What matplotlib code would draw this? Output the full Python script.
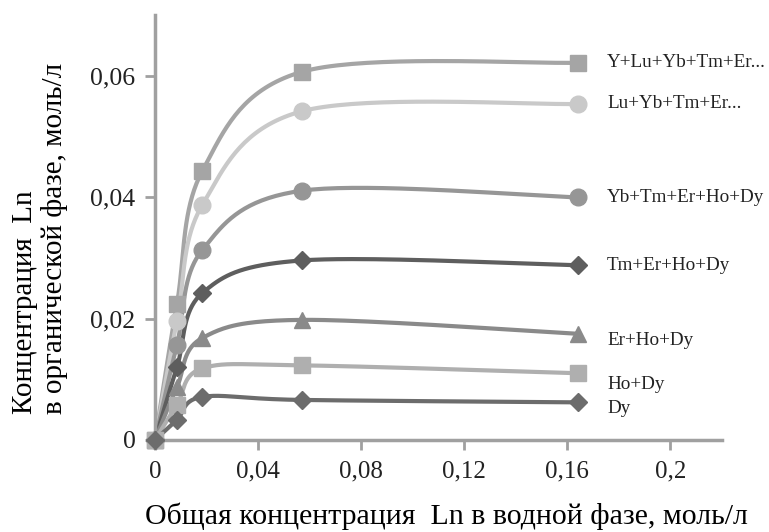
import matplotlib
matplotlib.use('Agg')
import matplotlib.pyplot as plt
import numpy as np

plt.rcParams['font.family'] = ['Liberation Serif', 'DejaVu Serif']

x_vals = [0, 0.0085, 0.0183, 0.057, 0.1643]
labels = ['Y+Lu+Yb+Tm+Er...', 'Lu+Yb+Tm+Er...', 'Yb+Tm+Er+Ho+Dy',
          'Tm+Er+Ho+Dy', 'Er+Ho+Dy', 'Ho+Dy', 'Dy']
s_y = [0, 0.0224, 0.0443, 0.0607, 0.0622]
s_lu = [0, 0.0196, 0.0387, 0.0542, 0.0554]
s_yb = [0, 0.0157, 0.0313, 0.0411, 0.0400]
s_tm = [0, 0.0120, 0.0242, 0.0296, 0.0288]
s_er = [0, 0.0087, 0.0168, 0.0198, 0.0175]
s_ho = [0, 0.0058, 0.0118, 0.0123, 0.0110]
s_dy = [0, 0.0033, 0.0071, 0.0066, 0.0062]

series = [s_y, s_lu, s_yb, s_tm, s_er, s_ho, s_dy]
colors = ['#a5a5a5', '#c9c9c9', '#969696', '#5e5e5e', '#8a8a8a', '#afafaf', '#6c6c6c']
markers = ['s', 'o', 'o', 'D', '^', 's', 'D']
msizes = [11, 12, 12, 9, 11, 11, 9]
label_dy = [0, 0, 0, 0, -0.0011, -0.0018, -0.0010]


def smooth(xs, ys, n=40, t=0.5):
    # cardinal spline through the points (like Excel smoothed lines)
    xs = np.asarray(xs, float)
    ys = np.asarray(ys, float)
    px = np.concatenate([[xs[0]], xs, [xs[-1]]])
    py = np.concatenate([[ys[0]], ys, [ys[-1]]])
    ox, oy = [], []
    for i in range(1, len(px) - 2):
        p0, p1, p2, p3 = [np.array([px[j], py[j]]) for j in (i - 1, i, i + 1, i + 2)]
        c1 = p1 + (p2 - p0) * t / 3
        c2 = p2 - (p3 - p1) * t / 3
        u = np.linspace(0, 1, n)[:, None]
        b = (1 - u) ** 3 * p1 + 3 * (1 - u) ** 2 * u * c1 + 3 * (1 - u) * u ** 2 * c2 + u ** 3 * p2
        ox.extend(b[:, 0])
        oy.extend(b[:, 1])
    return ox, oy


fig = plt.figure(figsize=(7.69, 5.32), dpi=100)
ax = fig.add_axes([0.2016, 0.173, 0.737, 0.798])

for ys, c, m, ms in zip(series, colors, markers, msizes):
    sx, sy = smooth(x_vals, ys)
    ax.plot(sx, sy, color=c, lw=3, zorder=2)
    ax.plot(x_vals, ys, ls='none', marker=m, ms=ms, color=c, mec=c, zorder=3, clip_on=False)

for ys, lab, d in zip(series, labels, label_dy):
    ax.text(0.1755, ys[-1] + d, lab, fontsize=13.8, va='center', ha='left', color='#222222')

ax.set_xlim(0, 0.22)
ax.set_ylim(0, 0.07)
ax.set_xticks([0, 0.04, 0.08, 0.12, 0.16, 0.2])
ax.set_xticklabels(['0', '0,04', '0,08', '0,12', '0,16', '0,2'])
ax.set_yticks([0, 0.02, 0.04, 0.06])
ax.set_yticklabels(['0', '0,02', '0,04', '0,06'])
ax.tick_params(labelsize=18, colors='#a0a0a0', width=2, length=7, labelcolor='#222222')
ax.tick_params(axis='x', pad=8)
ax.tick_params(axis='y', pad=7, labelsize=18.5)
for s in ['top', 'right']:
    ax.spines[s].set_visible(False)
for s in ['left', 'bottom']:
    ax.spines[s].set_color('#a0a0a0')
    ax.spines[s].set_linewidth(2.5)

ax.set_xlabel('Общая концентрация  Ln в водной фазе, моль/л', fontsize=21.5, labelpad=14, x=0.515)
fig.text(0.052, 0.222, 'Концентрация  Ln\nв органической фазе, моль/л', fontsize=21,
         rotation=90, ha='center', va='bottom', multialignment='left', linespacing=1.15)

plt.savefig('out.png', dpi=100)
